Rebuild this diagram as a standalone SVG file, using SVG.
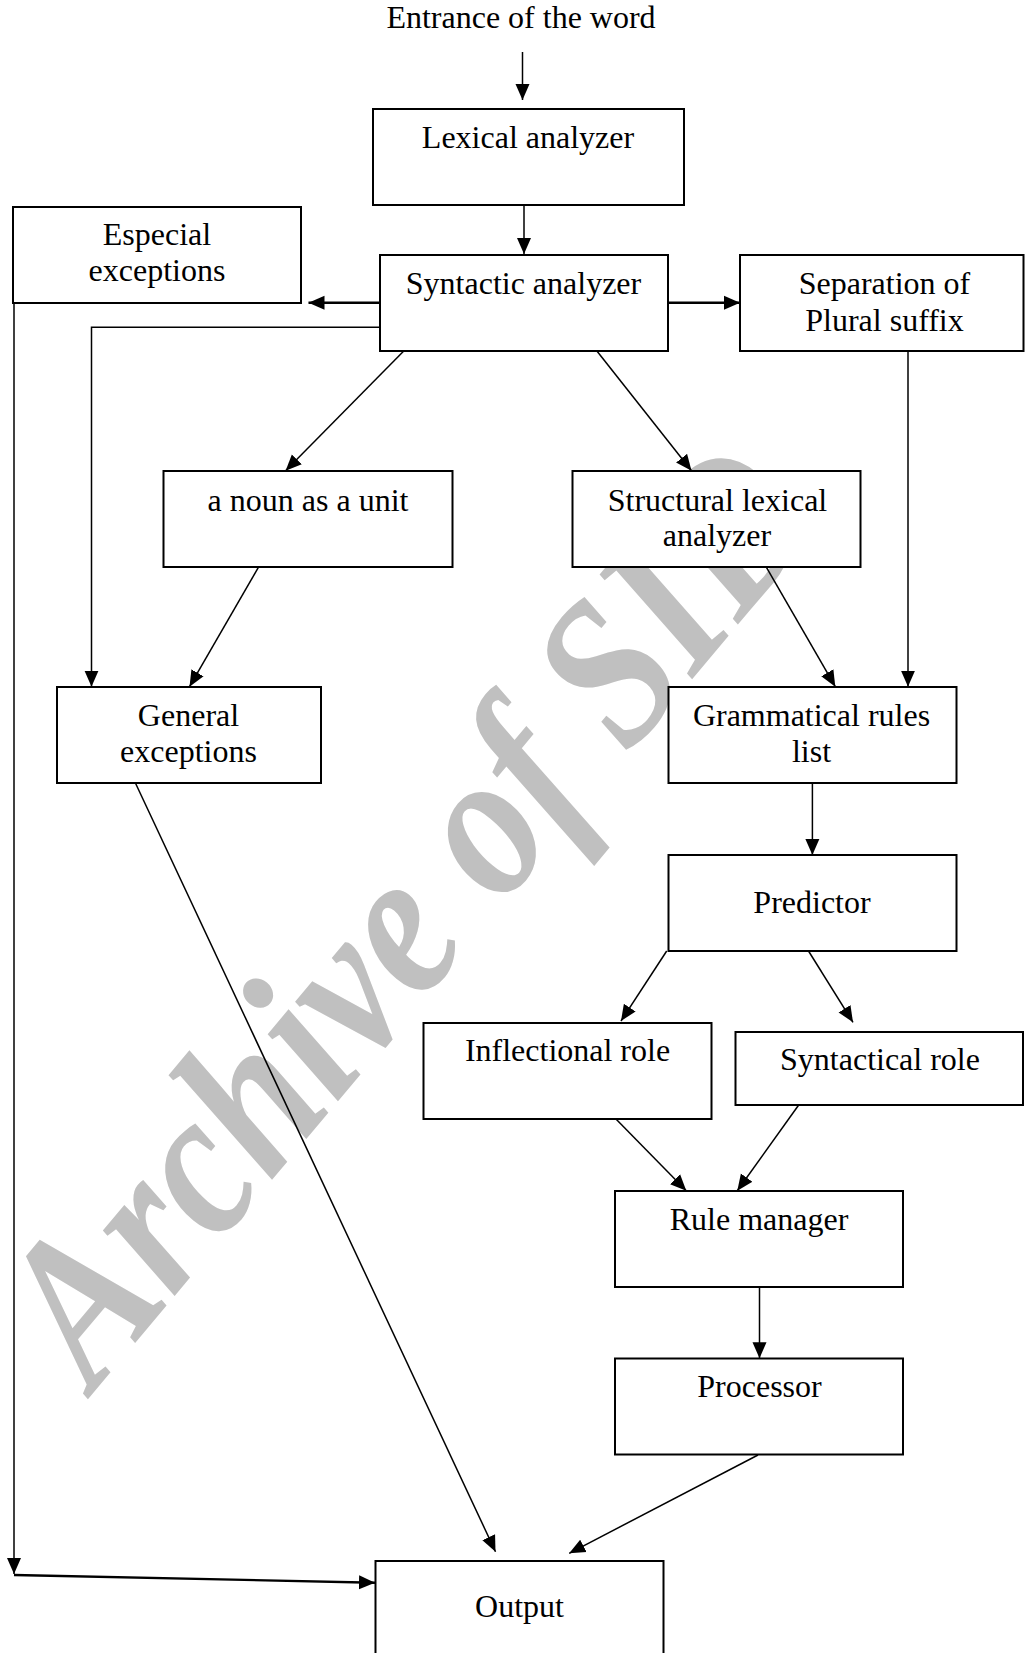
<svg xmlns="http://www.w3.org/2000/svg" width="1025" height="1653" viewBox="0 0 1025 1653">
<style>
.box{fill:#ffffff;stroke:#000000;stroke-width:2}
.t{font-family:"Liberation Serif","Times New Roman",serif;font-size:32px;fill:#000000;text-anchor:middle}
.c{fill:none;stroke:#000000;stroke-width:1.5;marker-end:url(#ah)}
.ck{fill:none;stroke:#000000;stroke-width:2.4;marker-end:url(#ah)}
.wm{font-family:"Liberation Serif","Times New Roman",serif;font-size:192px;font-weight:bold;font-style:italic;fill:#c0c0c0}
</style>
<defs>
<marker id="ah" markerUnits="userSpaceOnUse" markerWidth="17" markerHeight="15" refX="16" refY="7.5" orient="auto">
<path d="M0,0.5 L16,7.5 L0,14.5 z" fill="#000000"/>
</marker>
</defs>
<rect x="0" y="0" width="1025" height="1653" fill="#ffffff"/>
<text class="wm" x="0" y="0" transform="translate(94 1392) rotate(-50) scale(0.95 1.1)">Archive of SID</text>
<g id="connectors">
<path class="c" d="M522.5,52 L522.5,100"/>
<path class="c" d="M524,205 L524,254"/>
<path class="ck" d="M380,302.7 L308.5,302.7"/>
<path class="ck" d="M668,302.7 L740,302.7"/>
<path class="c" d="M380,327.3 L91.5,327.3 L91.5,686.7"/>
<path class="c" d="M404,350.7 L285.6,470.7"/>
<path class="c" d="M596.7,350.7 L691.5,470.7"/>
<path class="c" d="M908,350.7 L908,686.7"/>
<path class="c" d="M258.8,566.7 L189.5,686.7"/>
<path class="c" d="M766,566.7 L835.3,686.7"/>
<path class="c" d="M812.4,782.7 L812.4,855"/>
<path class="c" d="M666.7,951 L621,1021"/>
<path class="c" d="M808.5,951 L853,1022.3"/>
<path class="c" d="M615.7,1118.7 L686.3,1190.7"/>
<path class="c" d="M798.7,1105 L737.3,1190.7"/>
<path class="c" d="M759.5,1286.7 L759.5,1358.3"/>
<path class="c" d="M758,1455 L569.2,1553.3"/>
<path class="c" d="M135.3,782.7 L495.5,1551.7"/>
<path class="c" d="M14,302.7 L14,1574"/>
<path class="ck" d="M14,1575 L375,1582.7"/>
</g>
<text id="entrance" class="t" x="521" y="28">Entrance of the word</text>
<g id="lexical"><rect class="box" x="373" y="109" width="311" height="96"/><text class="t" x="528" y="148">Lexical analyzer</text></g>
<g id="especial"><rect class="box" x="13" y="207" width="288" height="96"/><text class="t" x="157" y="245">Especial</text><text class="t" x="157" y="281">exceptions</text></g>
<g id="syntactic"><rect class="box" x="380" y="255" width="288" height="96"/><text class="t" x="523.5" y="294">Syntactic analyzer</text></g>
<g id="separation"><rect class="box" x="740" y="255" width="283.5" height="96"/><text class="t" x="884.5" y="294">Separation of</text><text class="t" x="884.5" y="331">Plural suffix</text></g>
<g id="noun"><rect class="box" x="163.5" y="471" width="289" height="96"/><text class="t" x="308" y="511">a noun as a unit</text></g>
<g id="structural"><rect class="box" x="572.5" y="471" width="288" height="96"/><text class="t" x="717.5" y="511">Structural lexical</text><text class="t" x="717" y="546">analyzer</text></g>
<g id="general"><rect class="box" x="57" y="687" width="264" height="96"/><text class="t" x="188.5" y="726">General</text><text class="t" x="188.5" y="762">exceptions</text></g>
<g id="grammatical"><rect class="box" x="668.5" y="687" width="288" height="96"/><text class="t" x="811.5" y="726">Grammatical rules</text><text class="t" x="811.5" y="762">list</text></g>
<g id="predictor"><rect class="box" x="668.5" y="855" width="288" height="96"/><text class="t" x="812" y="913">Predictor</text></g>
<g id="inflectional"><rect class="box" x="423.5" y="1023" width="288" height="96"/><text class="t" x="567.5" y="1061">Inflectional role</text></g>
<g id="syntactical"><rect class="box" x="735.5" y="1032" width="287.5" height="73"/><text class="t" x="880" y="1070">Syntactical role</text></g>
<g id="rulemanager"><rect class="box" x="615" y="1191" width="288" height="96"/><text class="t" x="759" y="1230">Rule manager</text></g>
<g id="processor"><rect class="box" x="615" y="1358.5" width="288" height="96"/><text class="t" x="759.5" y="1396.5">Processor</text></g>
<g id="output"><rect class="box" x="375.5" y="1561" width="288" height="100"/><text class="t" x="519.5" y="1616.5">Output</text></g>
</svg>
